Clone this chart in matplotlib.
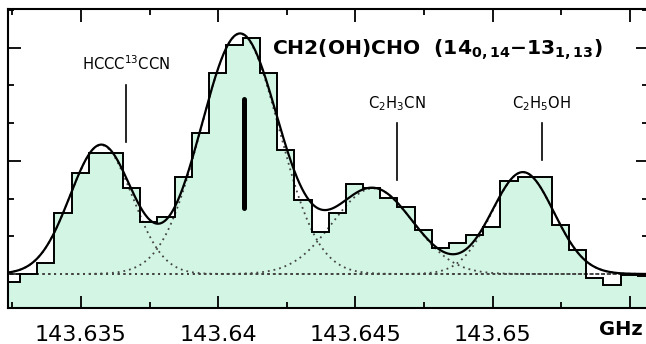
import numpy as np
import matplotlib
matplotlib.use("Agg")
import matplotlib.pyplot as plt

plt.rcParams['font.family'] = ['DejaVu Sans']
plt.rcParams['mathtext.default'] = 'regular'

# Kanalsentre (GHz) og malt intensitet (vilkarlige enheter, 1 = ett tick)
frekvenser = [143.63247, 143.63309, 143.63372, 143.63434, 143.63497, 143.63559,
              143.63622, 143.63684, 143.63747, 143.63809, 143.63872, 143.63934,
              143.63997, 143.64059, 143.64122, 143.64184, 143.64247, 143.64309,
              143.64372, 143.64434, 143.64497, 143.64559, 143.64622, 143.64684,
              143.64747, 143.64809, 143.64872, 143.64934, 143.64997, 143.65059,
              143.65122, 143.65184, 143.65247, 143.65309, 143.65372, 143.65434,
              143.65497, 143.65559]
intensitet = [-0.21, 0.00, 0.29, 1.62, 2.68, 3.21, 3.21, 2.28, 1.38, 1.51,
              2.57, 3.74, 5.33, 6.07, 6.26, 5.33, 3.29, 1.96, 1.11, 1.62,
              2.39, 2.28, 2.02, 1.78, 1.17, 0.69, 0.82, 1.03, 1.25, 2.47,
              2.57, 2.57, 1.30, 0.64, -0.11, -0.29, -0.03, -0.05]

# Gauss-tilpasning: sentrum (GHz), amplitude og sigma (GHz) for hver komponent
senter = [143.63573, 143.64079, 143.64564, 143.65110]
amplitude = [3.42, 6.37, 2.27, 2.70]
sigma = [0.00113, 0.00142, 0.00146, 0.00113]

# Linjemerker: navn, frekvens, tekstposisjon og strek
merke_navn = ['HCCC$^{13}$CCN', 'C$_2$H$_3$CN', 'C$_2$H$_5$OH']
merke_frekvens = [143.63664, 143.64651, 143.65179]
merke_tekst_y = [5.41, 4.40, 4.40]
merke_topp = [5.01, 4.00, 4.00]
merke_bunn = [3.50, 2.49, 3.02]

hovedlinje_frekvens = 143.64094
hovedlinje_y = [1.76, 4.63]

xtick_verdier = [143.635, 143.64, 143.645, 143.65, 143.655]
xtick_tekster = ['143.635', '143.64', '143.645', '143.65', '']

fig = plt.figure(figsize=(6.46, 3.44), dpi=100)
ax = fig.add_axes([8 / 646, 36 / 344, 640 / 646, 299.5 / 344])

x_min, x_max = 143.632341, 143.655656
y_min, y_max = -0.902, 7.04

# Kanalkanter fra sentrene
frek = np.array(frekvenser)
dv = np.mean(np.diff(frek))
kanter = np.append(frek - dv / 2, frek[-1] + dv / 2)

ax.stairs(intensitet, kanter, baseline=-3, fill=True, color='#d2f5e4', zorder=1)
ax.stairs(intensitet, kanter, baseline=None, color='black', linewidth=1.4, zorder=4)

# Gauss-komponenter og sum
xx = np.linspace(x_min, x_max, 800)
total = np.zeros_like(xx)
for c, a, s in zip(senter, amplitude, sigma):
    g = a * np.exp(-(xx - c) ** 2 / (2 * s ** 2))
    total += g
    ax.plot(xx, g, color='#444444', linewidth=1.3, linestyle=(0, (1, 2.2)), zorder=2)
ax.axhline(0, color='#444444', linewidth=1.3, linestyle=(0, (1, 2.2)), zorder=2)
ax.plot(xx, total, color='black', linewidth=1.6, zorder=5)

# Merker for andre molekyler
for navn, f, ty, y1, y2 in zip(merke_navn, merke_frekvens, merke_tekst_y, merke_topp, merke_bunn):
    ax.plot([f, f], [y2, y1], color='black', linewidth=1.2, zorder=6)
    ax.text(f, ty, navn, ha='center', va='baseline', fontsize=10.6)

ax.plot([hovedlinje_frekvens, hovedlinje_frekvens], hovedlinje_y, color='black',
        linewidth=3.6, solid_capstyle='round', zorder=6)

ax.text(143.64196, 5.81, 'CH2(OH)CHO  (14$_{0,14}$\u221213$_{1,13}$)', ha='left', va='baseline',
        fontsize=14.6, fontweight='bold')

ax.set_xlim(x_min, x_max)
ax.set_ylim(y_min, y_max)
ax.set_xticks(xtick_verdier)
ax.set_xticklabels(xtick_tekster)
ax.set_xticks([143.6325, 143.6375, 143.6425, 143.6475, 143.6525], minor=True)
ax.set_yticks([0, 3, 6])
ax.set_yticks([1, 2, 4, 5, 7], minor=True)
ax.set_yticklabels([])
ax.tick_params(which='both', direction='in', top=True, right=True, width=1.3)
ax.tick_params(which='major', length=9)
ax.tick_params(which='minor', length=4.5)
ax.tick_params(axis='x', which='major', pad=12, labelsize=16)
for sp in ax.spines.values():
    sp.set_linewidth(1.5)

fig.text(643 / 646, 9 / 344, 'GHz', ha='right', va='baseline', fontsize=14, fontweight='bold')

fig.savefig('out.png', dpi=100)
